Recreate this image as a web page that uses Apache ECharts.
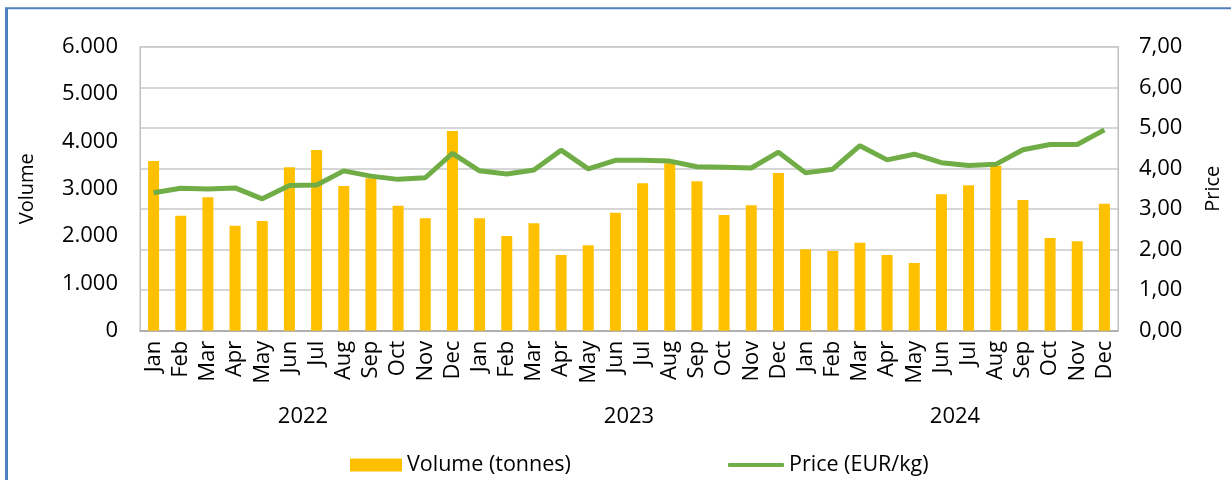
<!DOCTYPE html>
<html>
<head>
<meta charset="utf-8">
<title>Volume and price, 2022-2024</title>
<script src="https://cdn.jsdelivr.net/npm/echarts@6/dist/echarts.min.js"></script>
<style>
  html, body { margin: 0; padding: 0; background: #fff; }
  #chart { width: 1231px; height: 480px; }
</style>
</head>
<body>
<div id="chart"></div>
<script>
// Monthly categories, three years
const monthNames = ['Jan', 'Feb', 'Mar', 'Apr', 'May', 'Jun', 'Jul', 'Aug', 'Sep', 'Oct', 'Nov', 'Dec'];
const years = ['2022', '2023', '2024'];
const months = [].concat(monthNames, monthNames, monthNames);

// Volume in tonnes
const volume = [
  3586, 2430, 2818, 2219, 2318, 3452, 3818, 3057, 3220, 2641, 2375, 4220,
  2375, 2001, 2269, 1600, 1804, 2493, 3114, 3537, 3157, 2445, 2650, 3332,
  1720, 1684, 1859, 1600, 1430, 2882, 3072, 3487, 2762, 1959, 1889, 2684
];

// Price in EUR/kg
const price = [
  3.40, 3.51, 3.49, 3.52, 3.25, 3.58, 3.59, 3.94, 3.81, 3.73, 3.77, 4.37,
  3.94, 3.86, 3.96, 4.45, 3.99, 4.20, 4.20, 4.18, 4.04, 4.03, 4.01, 4.40,
  3.89, 3.98, 4.56, 4.21, 4.35, 4.14, 4.07, 4.10, 4.46, 4.59, 4.59, 4.95
];

const volumeName = 'Volume (tonnes)';
const priceName = 'Price (EUR/kg)';

const FONT = 'Open Sans';
const TXT = '#000';
const TICK_SIZE = 22;

const chart = echarts.init(document.getElementById('chart'), null, { renderer: 'canvas' });

chart.setOption({
  backgroundColor: '#fff',
  animation: false,
  textStyle: { fontFamily: FONT, color: TXT },
  grid: {
    left: 140, right: 113, top: 46.7, bottom: 149.3,
    show: true, borderColor: '#bfbfbf', borderWidth: 1, backgroundColor: 'transparent'
  },
  legend: [
    {
      data: [volumeName],
      left: 350, top: 454, padding: 0,
      itemWidth: 52, itemHeight: 13,
      icon: 'rect',
      textStyle: { fontFamily: FONT, fontSize: 21.5, color: TXT }
    },
    {
      data: [priceName],
      left: 728, top: 454, padding: 0,
      itemWidth: 56, itemHeight: 4,
      icon: 'roundRect',
      textStyle: { fontFamily: FONT, fontSize: 21.5, color: TXT }
    }
  ],
  xAxis: [
    {
      type: 'category',
      data: months,
      boundaryGap: true,
      axisLine: { lineStyle: { color: '#a6a6a6', width: 1.5 } },
      axisTick: { show: false },
      axisLabel: {
        interval: 0, rotate: 90, margin: 10,
        fontFamily: FONT, fontSize: TICK_SIZE, color: TXT
      },
      splitLine: { show: false }
    },
    {
      // year row under the month labels
      type: 'category',
      data: years,
      position: 'bottom',
      offset: 67,
      axisLine: { show: false },
      axisTick: { show: false },
      axisLabel: { interval: 0, margin: 8, fontFamily: FONT, fontSize: TICK_SIZE, color: TXT },
      splitLine: { show: false }
    }
  ],
  yAxis: [
    {
      type: 'value',
      name: 'Volume',
      nameLocation: 'middle',
      nameRotate: 90,
      nameGap: 103,
      nameTextStyle: { fontFamily: FONT, fontSize: 20, color: TXT },
      min: 0, max: 6000, interval: 1000,
      axisLine: { show: true, lineStyle: { color: '#bfbfbf' } },
      axisTick: { show: false },
      axisLabel: {
        margin: 22, fontFamily: FONT, fontSize: TICK_SIZE, color: TXT,
        formatter: v => v === 0 ? '0' : (v / 1000).toFixed(3)
      },
      splitLine: { show: false }
    },
    {
      type: 'value',
      name: 'Price',
      nameLocation: 'middle',
      nameRotate: 90,
      nameGap: 85,
      nameTextStyle: { fontFamily: FONT, fontSize: 20, color: TXT },
      min: 0, max: 7, interval: 1,
      position: 'right',
      axisLine: { show: true, lineStyle: { color: '#bfbfbf' } },
      axisTick: { show: false },
      axisLabel: {
        margin: 21, fontFamily: FONT, fontSize: TICK_SIZE, color: TXT,
        formatter: v => v.toFixed(2).replace('.', ',')
      },
      splitLine: { show: true, lineStyle: { color: '#c8c8c8', width: 1.5 } }
    }
  ],
  series: [
    {
      name: volumeName,
      type: 'bar',
      xAxisIndex: 0,
      yAxisIndex: 0,
      data: volume,
      barWidth: 11,
      itemStyle: { color: '#ffc000' },
      z: 2
    },
    {
      name: priceName,
      type: 'line',
      xAxisIndex: 0,
      yAxisIndex: 1,
      data: price,
      symbol: 'none',
      showSymbol: false,
      lineStyle: { color: '#70ad47', width: 5 },
      itemStyle: { color: '#70ad47' },
      z: 3
    }
  ],
  graphic: [
    // frame around the chart (left and top edges)
    {
      type: 'line', silent: true,
      shape: { x1: 6.5, y1: 8.3, x2: 6.5, y2: 480 },
      style: { stroke: '#4f81bd', lineWidth: 3 }
    },
    {
      type: 'line', silent: true,
      shape: { x1: 5, y1: 8.3, x2: 1231, y2: 8.3 },
      style: { stroke: '#4f81bd', lineWidth: 2 }
    }
  ]
});
</script>
</body>
</html>
